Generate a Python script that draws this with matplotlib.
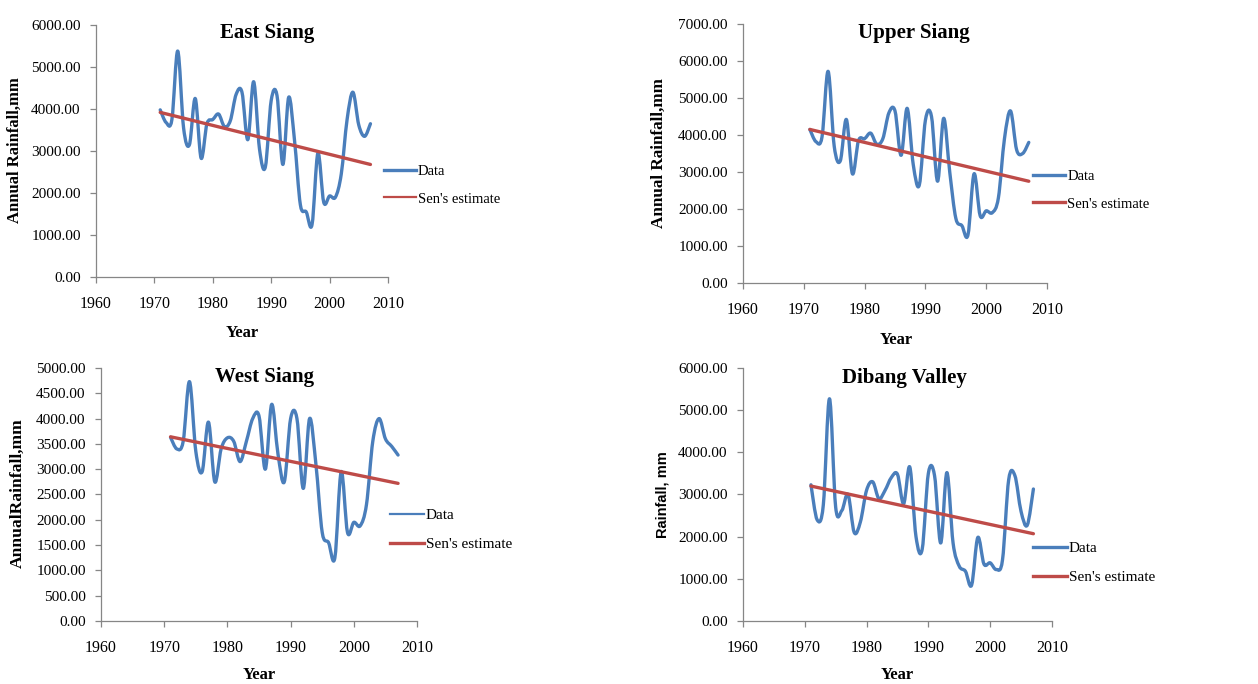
import matplotlib
matplotlib.use("Agg")
import matplotlib.pyplot as plt
from matplotlib.path import Path
from matplotlib.patches import PathPatch
from matplotlib.lines import Line2D
import numpy as np

# ---------------- data ----------------
years = list(range(1971, 2008))
sen_years = [1971, 2007]

east_siang = [3980, 3680, 3750, 5380, 3550, 3150, 4250, 2830, 3650, 3750,
              3880, 3580, 3720, 4350, 4400, 3270, 4650, 3050, 2620, 4200,
              4320, 2680, 4280, 3250, 1720, 1550, 1250, 2950, 1780, 1930,
              1900, 2450, 3750, 4400, 3620, 3350, 3650]
east_sen = [3920, 2680]

upper_siang = [4150, 3820, 3950, 5720, 3700, 3300, 4420, 2950, 3850, 3900,
               4050, 3750, 3900, 4600, 4650, 3450, 4720, 3200, 2650, 4400,
               4500, 2750, 4450, 3000, 1750, 1550, 1300, 2950, 1820, 1950,
               1900, 2300, 3900, 4650, 3600, 3500, 3800]
upper_sen = [4150, 2750]

west_siang = [3630, 3400, 3550, 4730, 3350, 2950, 3930, 2750, 3400, 3620,
              3550, 3150, 3550, 4000, 4050, 3000, 4280, 3300, 2750, 4000,
              4000, 2620, 4000, 3100, 1750, 1550, 1250, 2950, 1750, 1950,
              1880, 2300, 3550, 4000, 3600, 3450, 3280]
west_sen = [3640, 2720]

dibang_valley = [3230, 2400, 2750, 5270, 2700, 2620, 3000, 2100, 2350, 3100,
                 3300, 2900, 3100, 3400, 3480, 2780, 3650, 2000, 1700, 3500,
                 3450, 1850, 3520, 1850, 1300, 1180, 850, 1980, 1350, 1380,
                 1220, 1450, 3350, 3450, 2600, 2270, 3130]
dibang_sen = [3200, 2070]

titles = ["East Siang", "Upper Siang", "West Siang", "Dibang Valley"]
ylabels = ["Annual Rainfall,mm", "Annual Rainfall,mm", "AnnualRainfall,mm", "Rainfall, mm"]
xlabel = "Year"
legend_labels = ["Data", "Sen's estimate"]
xticks = [1960, 1970, 1980, 1990, 2000, 2010]
ymax_list = [6000, 7000, 5000, 6000]
ystep_list = [1000, 1000, 500, 1000]

series = [east_siang, upper_siang, west_siang, dibang_valley]
sens = [east_sen, upper_sen, west_sen, dibang_sen]

# ---------------- layout / style ----------------
W, H = 1258, 684
axes_rects = [
    [0.0763, 0.595, 0.2321, 0.3684],
    [0.5906, 0.5863, 0.2417, 0.3786],
    [0.0803, 0.0921, 0.2512, 0.3699],
    [0.5906, 0.0921, 0.2456, 0.3699],
]
title_pos = [(0.586, 0.968), (0.5625, 0.965), (0.519, 0.964), (0.524, 0.96)]
ylabel_pos = [(-0.277, 0.504), (-0.276, 0.502), (-0.263, 0.506), (-0.262, 0.498)]
ylabel_fs = [12, 12.3, 12.6, 10.5]
xlabel_pos = [(0.5, -0.222), (0.503, -0.22), (0.5, -0.215), (0.498, -0.215)]
legend_anchor = [(0.305, 0.7295), (0.8211, 0.7222), (0.31, 0.2251), (0.8211, 0.1769)]
legend_fs = [10.5, 10.5, 11, 11]
legend_lw = [(2.4, 1.6), (2.4, 2.4), (1.6, 2.4), (2.4, 2.4)]

BLUE = "#4A7EBB"
RED = "#BE4B48"
SPINE = "#868686"
SERIF = ["Liberation Serif", "DejaVu Serif"]
SANS = ["Liberation Sans", "DejaVu Sans"]

plt.rcParams["font.family"] = SERIF


def smooth_path(x, y):
    x = np.asarray(x, float)
    y = np.asarray(y, float)
    n = len(x)
    verts = [(x[0], y[0])]
    codes = [Path.MOVETO]
    for i in range(n - 1):
        i0 = max(i - 1, 0)
        i3 = min(i + 2, n - 1)
        c1 = (x[i] + (x[i + 1] - x[i0]) / 6.0, y[i] + (y[i + 1] - y[i0]) / 6.0)
        c2 = (x[i + 1] - (x[i3] - x[i]) / 6.0, y[i + 1] - (y[i3] - y[i]) / 6.0)
        verts += [c1, c2, (x[i + 1], y[i + 1])]
        codes += [Path.CURVE4] * 3
    return Path(verts, codes)


fig = plt.figure(figsize=(W / 100, H / 100), dpi=100)

for k in range(4):
    ax = fig.add_axes(axes_rects[k])
    ax.set_xlim(1960, 2010)
    ax.set_ylim(0, ymax_list[k])
    ax.set_xticks(xticks)
    ax.set_yticks(np.arange(0, ymax_list[k] + 1, ystep_list[k]))
    ax.yaxis.set_major_formatter(matplotlib.ticker.FormatStrFormatter("%.2f"))
    for s in ["top", "right"]:
        ax.spines[s].set_visible(False)
    for s in ["left", "bottom"]:
        ax.spines[s].set_color(SPINE)
        ax.spines[s].set_linewidth(0.9)
    ax.tick_params(axis="both", direction="out", length=4, width=0.9, color=SPINE,
                   labelcolor="black")
    ax.tick_params(axis="y", pad=7, labelsize=11)
    ax.tick_params(axis="x", pad=10, labelsize=11.5)

    # data line (smoothed)
    ax.add_patch(PathPatch(smooth_path(years, series[k]), facecolor="none",
                           edgecolor=BLUE, lw=2.4, capstyle="round", joinstyle="round"))
    # Sen's estimate
    ax.plot(sen_years, sens[k], color=RED, lw=2.4, solid_capstyle="round")

    ax.text(title_pos[k][0], title_pos[k][1], titles[k], transform=ax.transAxes,
            ha="center", va="center", fontsize=15, fontweight="bold", family=SERIF)

    yfam = SANS if k == 3 else SERIF
    ax.text(ylabel_pos[k][0], ylabel_pos[k][1], ylabels[k], transform=ax.transAxes,
            rotation=90, ha="center", va="center", fontsize=ylabel_fs[k],
            fontweight="bold", family=yfam)
    ax.text(xlabel_pos[k][0], xlabel_pos[k][1], xlabel, transform=ax.transAxes,
            ha="center", va="center", fontsize=12, fontweight="bold", family=SERIF)

    handles = [Line2D([], [], color=BLUE, lw=legend_lw[k][0]),
               Line2D([], [], color=RED, lw=legend_lw[k][1])]
    ax.legend(handles, legend_labels, loc="center left", bbox_to_anchor=legend_anchor[k],
              bbox_transform=fig.transFigure, frameon=False, fontsize=legend_fs[k],
              handlelength=2.2, handletextpad=0.15, labelspacing=1.0, borderpad=0,
              borderaxespad=0)

fig.savefig("out.png", dpi=100)
